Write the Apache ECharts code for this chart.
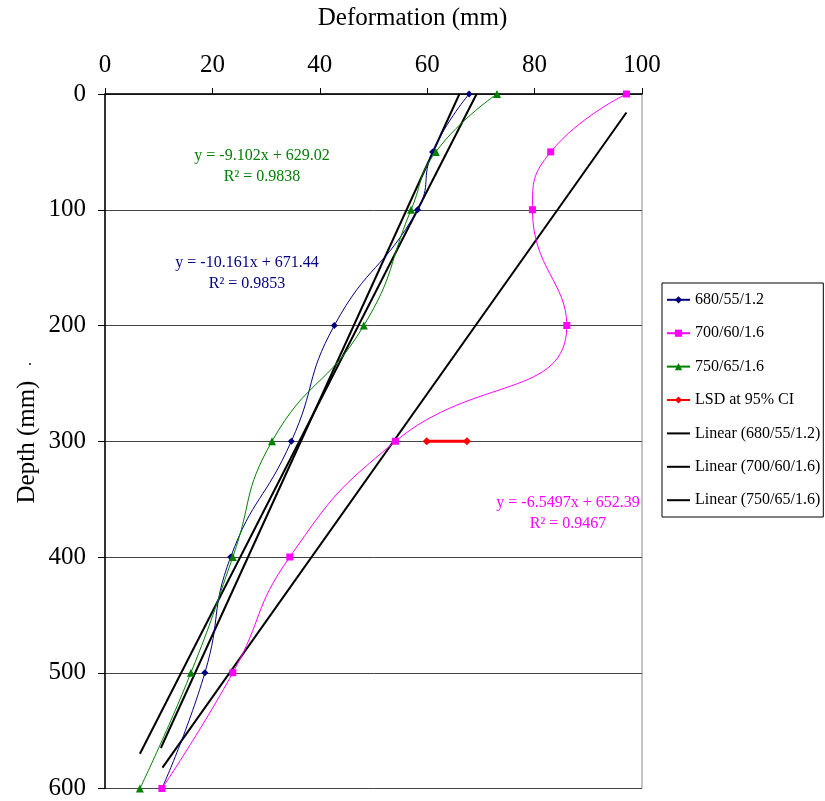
<!DOCTYPE html>
<html>
<head>
<meta charset="utf-8">
<script src="https://cdn.jsdelivr.net/npm/echarts@6/dist/echarts.min.js"></script>
<style>
  html, body { margin: 0; padding: 0; background: #fff; }
  #chart { width: 825px; height: 801px; }
</style>
</head>
<body>
<div id="chart"></div>
<script>
  // depth (mm) of each reading
  var depths = [0, 50, 100, 200, 300, 400, 500, 600];
  // deformation (mm) per mix
  var def680 = [67.8, 61.0, 58.2, 42.7, 34.7, 23.4, 18.6, 10.6];
  var def700 = [97.1, 83.0, 79.6, 86.0, 54.1, 34.4, 23.8, 10.6];
  var def750 = [73.0, 61.6, 57.0, 48.2, 31.1, 23.8, 16.0, 6.5];
  // LSD bar at 95% CI
  var lsdX = [59.9, 67.4];
  var lsdDepth = [300, 300];
  // trend line end points
  var trend680X = [10.4, 66.0], trend680Depth = [565, 0];
  var trend700X = [10.7, 97.1], trend700Depth = [582, 16];
  var trend750X = [6.5, 69.2], trend750Depth = [570, 0];
  var xTicks = [0, 20, 40, 60, 80, 100];
  var yTicks = [0, 100, 200, 300, 400, 500, 600];

  var serif = 'Liberation Serif';

  function pairs(xs, ys) {
    var out = [];
    for (var i = 0; i < xs.length; i++) out.push([xs[i], ys[i]]);
    return out;
  }

  function dataSeries(name, xs, color, symbol, size) {
    return {
      name: name,
      type: 'line',
      data: pairs(xs, depths),
      smooth: 0.5,
      symbol: symbol,
      symbolSize: size,
      lineStyle: { color: color, width: 1 },
      itemStyle: { color: color },
      z: 3
    };
  }

  function trendSeries(name, xs, ys) {
    return {
      name: name,
      type: 'line',
      data: pairs(xs, ys),
      symbol: 'none',
      lineStyle: { color: '#000', width: 2 },
      itemStyle: { color: '#000' },
      z: 2
    };
  }

  // trend lines show only a line in the legend
  function noMark(name) {
    return { name: name, itemStyle: { opacity: 0 } };
  }

  var chart = echarts.init(document.getElementById('chart'));
  chart.setOption({
    animation: false,
    backgroundColor: '#fff',
    grid: { left: 105, right: 183, top: 94, bottom: 11, show: true, borderColor: '#888', borderWidth: 1 },
    xAxis: {
      type: 'value',
      position: 'top',
      min: xTicks[0],
      max: xTicks[xTicks.length - 1],
      interval: 20,
      axisLine: { lineStyle: { color: '#000', width: 1.5 } },
      axisTick: { length: 6, lineStyle: { color: '#000' } },
      axisLabel: { fontFamily: serif, fontSize: 25, color: '#000', margin: 16 },
      splitLine: { show: false }
    },
    yAxis: {
      type: 'value',
      inverse: true,
      min: yTicks[0],
      max: yTicks[yTicks.length - 1],
      interval: 100,
      axisLine: { lineStyle: { color: '#000', width: 1.5 } },
      axisTick: { length: 7, lineStyle: { color: '#000' } },
      axisLabel: { fontFamily: serif, fontSize: 25, color: '#000', margin: 19 },
      splitLine: { lineStyle: { color: '#444', width: 1 } }
    },
    legend: {
      orient: 'vertical',
      left: 662,
      top: 283,
      padding: [8.8, 3, 8.8, 4],
      itemWidth: 23,
      itemHeight: 9,
      itemGap: 17.4,
      borderColor: '#000',
      borderWidth: 1,
      backgroundColor: '#fff',
      textStyle: { fontFamily: serif, fontSize: 16, color: '#000' },
      data: ['680/55/1.2', '700/60/1.6', '750/65/1.6', 'LSD at 95% CI',
             noMark('Linear (680/55/1.2)'), noMark('Linear (700/60/1.6)'), noMark('Linear (750/65/1.6)')]
    },
    series: [
      dataSeries('680/55/1.2', def680, '#000080', 'diamond', 7),
      dataSeries('700/60/1.6', def700, '#ff00ff', 'rect', 7),
      dataSeries('750/65/1.6', def750, '#008000', 'triangle', 8),
      {
        name: 'LSD at 95% CI',
        type: 'line',
        data: pairs(lsdX, lsdDepth),
        symbol: 'diamond',
        symbolSize: 8,
        lineStyle: { color: '#ff0000', width: 3 },
        itemStyle: { color: '#ff0000' },
        z: 4
      },
      trendSeries('Linear (680/55/1.2)', trend680X, trend680Depth),
      trendSeries('Linear (700/60/1.6)', trend700X, trend700Depth),
      trendSeries('Linear (750/65/1.6)', trend750X, trend750Depth)
    ],
    graphic: [
      { type: 'text', left: 'center', x: 373, top: 6, style: { text: 'Deformation (mm)', font: '25px ' + serif, fill: '#000' } },
      { type: 'text', x: 27, y: 442, rotation: Math.PI / 2, style: { text: 'Depth (mm)', font: '25px ' + serif, fill: '#000', align: 'center', verticalAlign: 'middle' } },
      { type: 'text', x: 30, y: 361, style: { text: '.', font: '16px ' + serif, fill: '#000', align: 'center', verticalAlign: 'middle' } },
      { type: 'text', x: 262, y: 166, style: { text: 'y = -9.102x + 629.02\nR² = 0.9838', font: '16px ' + serif, lineHeight: 21, fill: '#008000', align: 'center', verticalAlign: 'middle' } },
      { type: 'text', x: 247, y: 273, style: { text: 'y = -10.161x + 671.44\nR² = 0.9853', font: '16px ' + serif, lineHeight: 21, fill: '#000080', align: 'center', verticalAlign: 'middle' } },
      { type: 'text', x: 568, y: 513, style: { text: 'y = -6.5497x + 652.39\nR² = 0.9467', font: '16px ' + serif, lineHeight: 21, fill: '#ff00ff', align: 'center', verticalAlign: 'middle' } }
    ]
  });
</script>
</body>
</html>
